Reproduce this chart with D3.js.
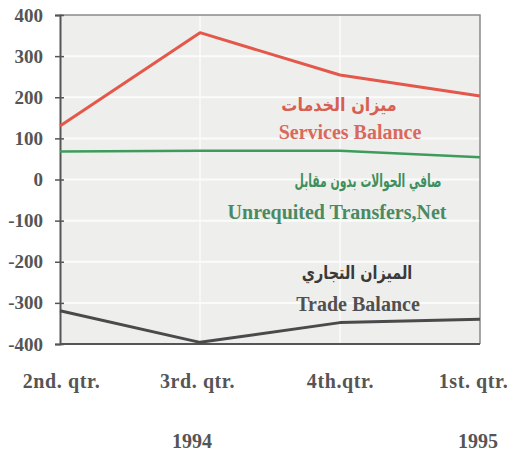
<!DOCTYPE html>
<html>
<head>
<meta charset="utf-8">
<script src="https://cdnjs.cloudflare.com/ajax/libs/d3/7.8.5/d3.min.js"></script>
<style>
  body { margin: 0; background: #fff; }
  svg text { font-family: "Liberation Serif", "DejaVu Serif", serif; font-weight: bold; }
  .ar { font-family: "DejaVu Sans", sans-serif; font-weight: bold; }
</style>
</head>
<body>
<div id="chart"></div>
<script>
// Quarters shown on the x axis
var quarters = ["2nd. qtr.", "3rd. qtr.", "4th.qtr.", "1st. qtr."];
var years = ["", "1994", "", "1995"];

// Series values
var services = [130, 357, 254, 203];
var transfers = [68, 70, 70, 54];
var trade = [-319, -396, -348, -340];

// Y axis ticks
var yTicks = [400, 300, 200, 100, 0, -100, -200, -300, -400];

var width = 518;
var height = 452;

var svg = d3.select("#chart")
	.append("svg")
	.attr("width", width)
	.attr("height", height);

var x = d3.scalePoint()
	.domain(quarters)
	.range([60, 480]);

var y = d3.scaleLinear()
	.domain([-400, 400])
	.range([344, 15]);

// plot background
svg.append("rect")
	.attr("x", x.range()[0])
	.attr("y", y(400))
	.attr("width", x.range()[1] - x.range()[0])
	.attr("height", y(-400) - y(400))
	.style("fill", "#eeefed");

// white grid lines
svg.selectAll("line.hgrid")
	.data(yTicks.slice(1, -1))
	.enter()
	.append("line")
	.attr("class", "hgrid")
	.attr("x1", x.range()[0])
	.attr("x2", x.range()[1])
	.attr("y1", function(d){ return y(d); })
	.attr("y2", function(d){ return y(d); })
	.style("stroke", "#fbfbfb")
	.style("stroke-width", 2);

svg.selectAll("line.vgrid")
	.data(quarters.slice(1, -1))
	.enter()
	.append("line")
	.attr("class", "vgrid")
	.attr("x1", function(d){ return x(d); })
	.attr("x2", function(d){ return x(d); })
	.attr("y1", y(400))
	.attr("y2", y(-400))
	.style("stroke", "#fbfbfb")
	.style("stroke-width", 1.5);

// top and right border
svg.append("path")
	.attr("d", "M" + x.range()[0] + "," + y(400) + "H" + x.range()[1] + "V" + y(-400))
	.style("fill", "none")
	.style("stroke", "#8a8a8a")
	.style("stroke-width", 1.5);

// Left axis
var yAxis = d3.axisLeft(y)
	.tickValues(yTicks)
	.tickSize(5)
	.tickPadding(12)
	.tickFormat(function(d){ return String(d); });

var gy = svg.append("g")
	.attr("transform", "translate(" + x.range()[0] + ",0)")
	.call(yAxis);

gy.select(".domain").style("stroke", "#555").style("stroke-width", 2);
gy.selectAll(".tick line").attr("x1", 4).style("stroke", "#555").style("stroke-width", 1.5);
gy.selectAll(".tick text")
	.style("font-size", "19px")
	.style("fill", "#555")
	.style("font-family", "'Liberation Serif', serif");

// bottom axis line
svg.append("line")
	.attr("x1", x.range()[0])
	.attr("x2", x.range()[1])
	.attr("y1", y(-400))
	.attr("y2", y(-400))
	.style("stroke", "#555")
	.style("stroke-width", 2);

// category labels
var xAxis = d3.axisBottom(x).tickSize(0).tickPadding(30);
var gx = svg.append("g")
	.attr("transform", "translate(0," + y(-400) + ")")
	.call(xAxis);
gx.select(".domain").remove();
gx.selectAll(".tick text")
	.style("font-size", "20px")
	.style("letter-spacing", "0.6px")
	.style("fill", "#555")
	.style("font-family", "'Liberation Serif', serif")
	.attr("dx", function(d, i){ return i == 0 ? 1 : i == 1 ? -3 : i == quarters.length - 1 ? -7 : 0; });

// years
svg.selectAll("text.year")
	.data(quarters)
	.enter()
	.append("text")
	.attr("class", "year")
	.attr("x", function(d, i){ return x(d) + (i == 1 ? -8 : -2); })
	.attr("y", 448)
	.attr("text-anchor", "middle")
	.style("font-size", "20px")
	.style("fill", "#555")
	.text(function(d, i){ return years[i]; });

// lines
var line = d3.line()
	.x(function(d, i){ return x(quarters[i]); })
	.y(function(d){ return y(d); });

var series = [
	{ name: "services", values: services, color: "#e3584a", w: 3 },
	{ name: "transfers", values: transfers, color: "#3d9b5c", w: 2.5 },
	{ name: "trade", values: trade, color: "#4a4a4a", w: 3 }
];

svg.selectAll("path.series")
	.data(series)
	.enter()
	.append("path")
	.attr("class", "series")
	.attr("d", function(d){ return line(d.values); })
	.style("fill", "none")
	.style("stroke", function(d){ return d.color; })
	.style("stroke-width", function(d){ return d.w; })
	.style("stroke-linejoin", "round");

// series labels
var labels = [
	{ text: "ميزان الخدمات", x: 339, y: 111, color: "#d75f52", ar: true, sx: 0.89 },
	{ text: "Services Balance", x: 350, y: 139, color: "#d9695c", ar: false, sx: 1 },
	{ text: "صافي الحوالات بدون مقابل", x: 368, y: 187, color: "#3f8f5c", ar: true, sx: 0.6 },
	{ text: "Unrequited Transfers,Net", x: 337, y: 219, color: "#4a8a63", ar: false, sx: 1 },
	{ text: "الميزان التجاري", x: 357, y: 279, color: "#3a3a3a", ar: true, sx: 0.8 },
	{ text: "Trade Balance", x: 358, y: 311, color: "#505050", ar: false, sx: 1 }
];

svg.selectAll("text.lab")
	.data(labels)
	.enter()
	.append("text")
	.attr("class", function(d){ return d.ar ? "lab ar" : "lab"; })
	.attr("transform", function(d){ return "translate(" + d.x + "," + d.y + ") scale(" + d.sx + ",1)"; })
	.attr("text-anchor", "middle")
	.style("font-size", function(d){ return d.ar ? "18px" : "20px"; })
	.style("fill", function(d){ return d.color; })
	.text(function(d){ return d.text; });
</script>
</body>
</html>
